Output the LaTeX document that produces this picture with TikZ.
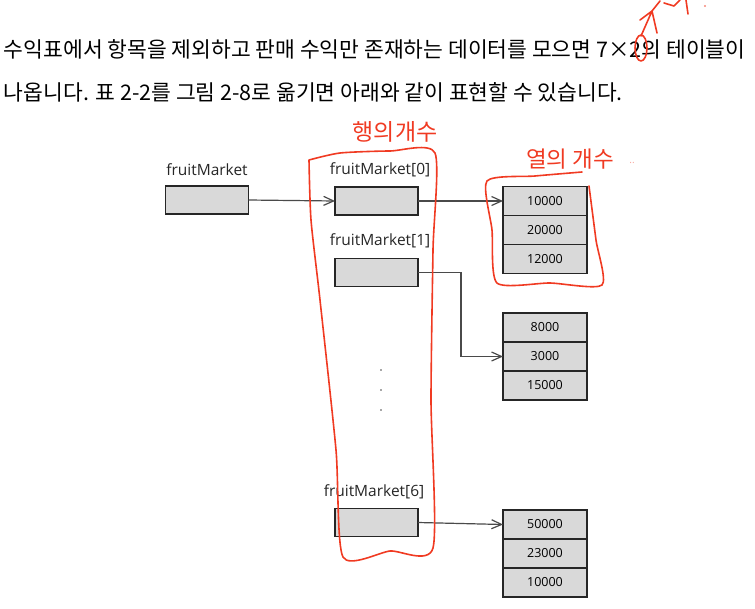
\documentclass[tikz,border=0pt]{standalone}
\usepackage{fontspec}
\setmainfont{Open Sans}
\newfontfamily\kofont{Noto Sans CJK KR}
\usepackage{tikz}
\usetikzlibrary{arrows.meta,calc}

\definecolor{cellgray}{HTML}{D9D9D9}
\definecolor{linegray}{HTML}{4A4A4A}
\definecolor{penred}{HTML}{F03A22}

\begin{document}
\begin{tikzpicture}[x=1pt,y=-1pt,
  every node/.style={inner sep=0pt,outer sep=0pt},
  ptrbox/.style={draw=black!85,line width=1.3pt,fill=cellgray,minimum width=83pt,minimum height=28pt},
  cellbox/.style={draw=black!85,line width=1.3pt,fill=cellgray,minimum width=84pt,minimum height=29pt,font=\fontsize{12.5}{14}\selectfont},
  varlabel/.style={font=\fontsize{15.5}{18}\selectfont,text=black!85},
  link/.style={draw=linegray,line width=1.2pt,-{Straight Barb[length=10pt,width=9pt,line width=1.2pt]}},
  pen/.style={draw=penred,line width=1.6pt,line cap=round,line join=round},
  pentext/.style={text=penred,font=\kofont\fontsize{23}{26}\selectfont}]
  \useasboundingbox (0,0) rectangle (755,608);

  % sentence above the figure
  \node[anchor=west,font=\kofont\fontsize{21.5}{25}\selectfont] (line1) at (4,49) {수익표에서 항목을 제외하고 판매 수익만 존재하는 데이터를 모으면 7×2의 테이블이};
  \node[anchor=west,font=\kofont\fontsize{21.5}{25}\selectfont] (line2) at (4,92) {나옵니다. 표 2-2를 그림 2-8로 옮기면 아래와 같이 표현할 수 있습니다.};

  % outer variable
  \node[varlabel] (lfm) at (207,170) {fruitMarket};
  \node[ptrbox] (fm) at (207,200) {};

  % row pointers
  \node[varlabel] (l0) at (380,170) {fruitMarket[0]};
  \node[ptrbox] (p0) at (376.5,201) {};
  \node[varlabel] (l1) at (380,241) {fruitMarket[1]};
  \node[ptrbox] (p1) at (376.5,272.5) {};
  \node[varlabel] (l6) at (374,492) {fruitMarket[6]};
  \node[ptrbox] (p6) at (376.5,522.5) {};

  \node[circle,fill=black!70,minimum size=1.6pt] (d1) at (381,370) {};
  \node[circle,fill=black!70,minimum size=1.6pt] (d2) at (381,390) {};
  \node[circle,fill=black!70,minimum size=1.6pt] (d3) at (381,410) {};

  % column arrays
  \foreach \v [count=\i] in {10000,20000,12000}
    \node[cellbox] (a0-\i) at (545,{172+\i*29}) {\v};
  \foreach \v [count=\i] in {8000,3000,15000}
    \node[cellbox] (a1-\i) at (545,{298.5+\i*29}) {\v};
  \foreach \v [count=\i] in {50000,23000,10000}
    \node[cellbox] (a6-\i) at (545,{495.5+\i*29}) {\v};

  % connectors
  \draw[link] (fm.east) -- (p0.west);
  \draw[link] (p0.east) -- (a0-1.west);
  \draw[link] (p1.east) -- ++(43,0) |- (a1-2.west);
  \draw[link] (p6.east) -- (a6-1.west);

  % red pen notes
  \draw[pen] plot[smooth,tension=0.4] coordinates {(309,160) (340,153) (390,151) (435,153) (433,250) (431,400) (433,548) (390,551) (343,557) (336,450) (320,300) (311,220) (309,160)};
  \node[pentext] (rows) at (395,132) {행의개수};
  \draw[pen] plot[smooth,tension=0.4] coordinates {(589,186) (596,240) (602,285) (550,283) (497,283) (492,230) (487,181) (535,176) (582,172)};
  \node[pentext,font=\kofont\fontsize{22.5}{26}\selectfont] (cols) at (570,159) {열의 개수};
  \node[text=penred!45,font=\fontsize{10}{12}\selectfont] (dots) at (632,163) {..};
  \draw[pen] (641,48) ellipse (6pt and 13pt);
  \draw[pen] (641,36) -- (652,11) (640,20) -- (652,11) -- (657,33);
  \draw[pen] (652,11) -- (660,1) (664,3) -- (674,6) -- (680,0) (686,0) -- (688,14);
  \fill[penred!60] (705,6) circle (1.2pt);
\end{tikzpicture}
\end{document}
